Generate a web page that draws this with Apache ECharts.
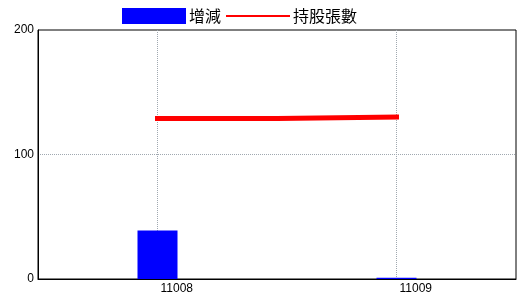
<!DOCTYPE html>
<html>
<head>
<meta charset="utf-8">
<script src="https://cdn.jsdelivr.net/npm/echarts@6/dist/echarts.min.js"></script>
<style>html,body{margin:0;padding:0;background:#fff}#c{width:520px;height:300px}</style>
</head>
<body>
<div id="c"></div>
<script>
var categories = ['11008', '11009'];
var changeValues = [39, 1];
var holdingValues = [129, 130];
var yTicks = [0, 100, 200];

var chart = echarts.init(document.getElementById('c'), null, {renderer: 'canvas'});
chart.setOption({
  animation: false,
  backgroundColor: '#fff',
  legend: {
    left: 122, top: 8, padding: 0,
    itemWidth: 64, itemHeight: 16, itemGap: 5,
    textStyle: {fontFamily: 'Noto Sans CJK TC', fontSize: 16, color: '#000', padding: [0, 0, 0, -2]},
    data: [
      {name: '增減', icon: 'rect', itemStyle: {color: '#0000ff'}},
      {name: '持股張數', icon: 'path://M0,0L64,0L64,2L0,2Z', itemStyle: {color: '#ff0000'}}
    ]
  },
  grid: {left: 38, right: 4, top: 30, bottom: 21, show: true, borderColor: '#000', borderWidth: 1, backgroundColor: 'transparent'},
  xAxis: {
    type: 'category', data: categories, boundaryGap: true,
    axisLine: {lineStyle: {color: '#000', width: 1}},
    axisTick: {show: false},
    splitLine: {show: false},
    axisLabel: {align: 'left', padding: [0, 0, 0, 3], margin: 4, fontFamily: 'Liberation Sans', fontSize: 12, color: '#000'}
  },
  yAxis: {
    type: 'value', min: yTicks[0], max: yTicks[yTicks.length - 1], interval: yTicks[1] - yTicks[0],
    axisLine: {show: true, lineStyle: {color: '#000', width: 1}},
    axisTick: {show: false},
    axisLabel: {margin: 4, fontFamily: 'Liberation Sans', fontSize: 12, color: '#000'},
    splitLine: {show: true, showMinLine: false, showMaxLine: false, lineStyle: {type: 'dotted', color: '#a0a8b0', width: 1}}
  },
  series: [
    {
      name: '增減', type: 'bar', data: changeValues, barWidth: 40,
      itemStyle: {color: '#0000ff'}, z: 2,
      markLine: {
        silent: true, symbol: 'none', z: 1, animation: false,
        label: {show: false},
        lineStyle: {type: 'dotted', color: '#a0a8b0', width: 1},
        data: categories.map(function (c) { return {xAxis: c}; })
      }
    },
    {
      name: '持股張數', type: 'line', data: holdingValues, step: 'middle',
      showSymbol: false, symbol: 'none', z: 3,
      lineStyle: {color: '#ff0000', width: 5, cap: 'square'},
      itemStyle: {color: '#ff0000'}
    }
  ]
});
</script>
</body>
</html>
